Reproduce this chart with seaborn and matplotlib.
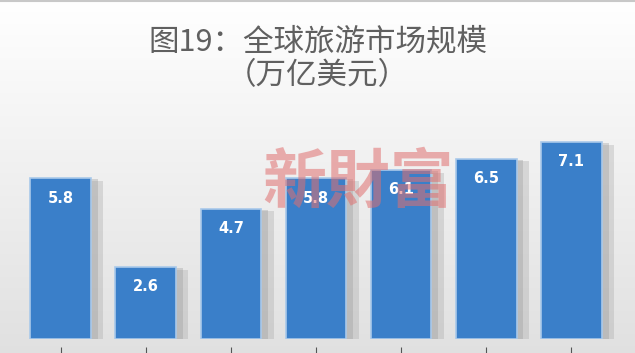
import numpy as np
import pandas as pd
import matplotlib
matplotlib.use("Agg")
import matplotlib.pyplot as plt
import matplotlib.patheffects as pe
import seaborn as sns

categories = ["1", "2", "3", "4", "5", "6", "7"]
values = [5.8, 2.6, 4.7, 5.8, 6.1, 6.5, 7.1]
value_labels = ["5.8", "2.6", "4.7", "5.8", "6.1", "6.5", "7.1"]
title_line1 = "图19：全球旅游市场规模"
title_line2 = "（万亿美元）"
watermark = "新財富"

sns.set_theme(style="white")
plt.rcParams["font.family"] = ["Noto Sans CJK SC", "DejaVu Sans"]

fig = plt.figure(figsize=(6.35, 3.53), dpi=100)

# background gradient
bg = fig.add_axes([0, 0, 1, 1], zorder=0)
grad = np.linspace(0, 1, 353)
top = np.array([1.0, 1.0, 1.0])
bot = np.array([0.88, 0.88, 0.88])
col = top[None, :] * (1 - grad[:, None]) + bot[None, :] * grad[:, None]
img = np.repeat(col[:, None, :], 10, axis=1)
bg.imshow(img, aspect="auto", extent=[0, 1, 0, 1], origin="upper")
bg.axhline(0.996, color="#c8c8c8", lw=1.5)
bg.set_xlim(0, 1); bg.set_ylim(0, 1)
bg.axis("off")

ax = fig.add_axes([18/635, 14/353, 596/635, 222/353], zorder=1)
ax.patch.set_alpha(0)
df = pd.DataFrame({"cat": categories, "val": values})
sns.barplot(data=df, x="cat", y="val", ax=ax, color="#3a7fc9",
            saturation=1, width=0.71, edgecolor="#a9c9ea", linewidth=1.2)
for p in ax.patches:
    p.set_path_effects([pe.SimplePatchShadow(offset=(9, -2), shadow_rgbFace="#a8a8a8", alpha=0.35),
                        pe.SimplePatchShadow(offset=(5, -1), shadow_rgbFace="#9a9a9a", alpha=0.35),
                        pe.Normal()])
ax.set_ylim(0, 8)
ax.set_xlim(-0.5, 6.5)
for i, (v, lab) in enumerate(zip(values, value_labels)):
    ax.annotate(lab, (i, v), xytext=(0, -20), textcoords="offset pixels",
                ha="center", va="center", color="white", fontsize=10.5, fontweight="bold",
                family=["DejaVu Sans"])
for s in ax.spines.values():
    s.set_visible(False)
ax.spines["bottom"].set_position(("outward", 6))
ax.set_yticks([])
ax.set_xticklabels([])
ax.tick_params(axis="x", bottom=True, length=9, width=0.8, color="#555555", direction="out")
ax.set_xlabel(""); ax.set_ylabel("")

fig.text(0.5, 1 - 42/353, title_line1, ha="center", va="center", fontsize=22,
         color="#606060", fontweight="light")
fig.text(0.5, 1 - 76/353, title_line2, ha="center", va="center", fontsize=22,
         color="#606060", fontweight="light")
fig.text(358/635, 1 - 183/353, watermark, ha="center", va="center", fontsize=46,
         fontweight="bold", color="#e07070", alpha=0.55, zorder=5,
         family=["Noto Sans CJK TC", "Noto Sans CJK SC"])

fig.savefig("out.png", dpi=100)
